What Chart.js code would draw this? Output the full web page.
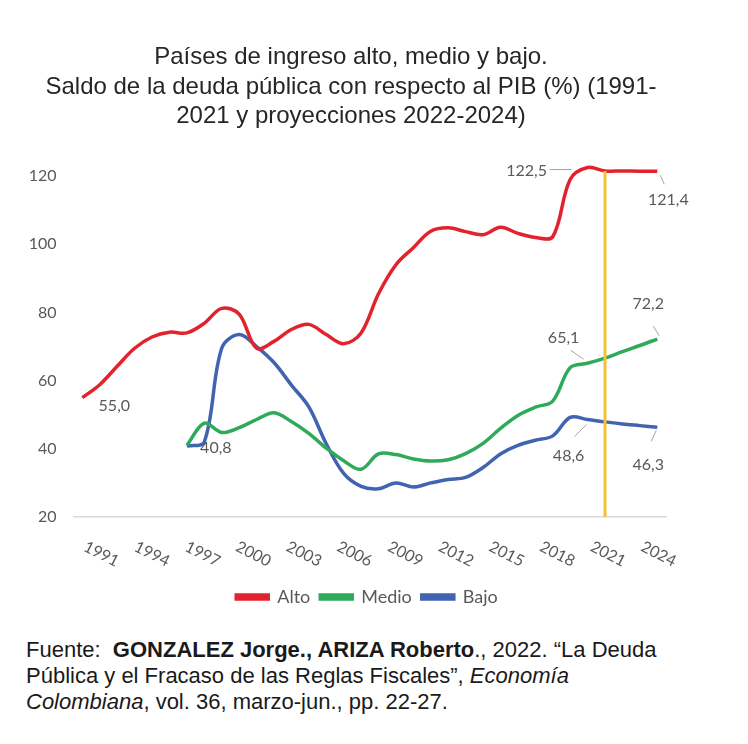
<!DOCTYPE html>
<html lang="es">
<head>
<meta charset="utf-8">
<title>Saldo de la deuda pública</title>
<script src="https://cdn.jsdelivr.net/npm/chart.js@4.4.1/dist/chart.umd.min.js"></script>
<style>
	body { margin: 0; background: #fff; }
	#titulo { position: absolute; left: 0; top: 41px; width: 702px; text-align: center;
		font: 24px "Liberation Sans", Arial, sans-serif; line-height: 29.5px; color: #262626; }
	#wrap { position: absolute; left: 0; top: 0; width: 748px; height: 625px; }
	#fuente { position: absolute; left: 26px; top: 637px; font: 22px "Liberation Sans", Arial, sans-serif;
		line-height: 26px; color: #1a1a1a; }
</style>
</head>
<body>
<div id="wrap"><canvas id="deudaChart"></canvas></div>
<div id="titulo">Países de ingreso alto, medio y bajo.<br>Saldo de la deuda pública con respecto al PIB (%) (1991-<br>2021 y proyecciones 2022-2024)</div>
<div id="fuente">Fuente:&nbsp; <b>GONZALEZ Jorge., ARIZA Roberto</b>., 2022. “La Deuda<br>Pública y el Fracaso de las Reglas Fiscales”, <i>Economía</i><br><i>Colombiana</i>, vol. 36, marzo-jun., pp. 22-27.</div>
<script>

// Data (% of GDP)
var years = ['1991','1992','1993','1994','1995','1996','1997','1998','1999','2000',
	'2001','2002','2003','2004','2005','2006','2007','2008','2009','2010',
	'2011','2012','2013','2014','2015','2016','2017','2018','2019','2020',
	'2021','2022','2023','2024'];

var alto = [55.0, 58.8, 64.2, 69.5, 72.8, 74.2, 74.0, 76.8, 81.2, 79.5,
	69.5, 71.5, 75.0, 76.5, 73.5, 70.8, 74.0, 85.5, 94.0, 99.0,
	103.8, 104.8, 103.7, 102.8, 105.0, 103.2, 102.0, 102.2, 119.0, 122.5,
	121.5, 121.5, 121.4, 121.4];

var medio = [null, null, null, null, null, null, 41.0, 47.5, 44.8, 46.2,
	48.6, 50.6, 48.0, 44.5, 40.2, 36.5, 34.0, 38.5, 38.3, 37.0,
	36.4, 36.8, 38.6, 41.6, 46.0, 49.8, 52.2, 54.0, 63.8, 65.1,
	66.6, 68.5, 70.3, 72.2];

var bajo = [null, null, null, null, null, null, 40.8, 42.0, 69.5, 73.5,
	70.0, 65.3, 58.7, 52.3, 41.5, 32.8, 29.0, 28.3, 30.0, 28.8,
	30.0, 31.0, 31.6, 34.5, 38.5, 41.0, 42.5, 43.8, 49.2, 48.6,
	47.9, 47.3, 46.8, 46.3];

var axisYears = ['1991','1994','1997','2000','2003','2006','2009','2012','2015','2018','2021','2024'];
var yTicks = [20, 40, 60, 80, 100, 120];
var projectionYear = '2021';

// which points carry a value label, and where the label sits
var valueLabels = [
	{ ds: 0, year: '1991', dx: 32, dy: 8 },
	{ ds: 2, year: '1997', dx: 29, dy: 2 },
	{ ds: 0, year: '2020', dx: -61, dy: 3, lead: [-38, 2, -16, 2] },
	{ ds: 0, year: '2024', dx: 11, dy: 29, lead: [3, 4, 7, 13] },
	{ ds: 1, year: '2020', dx: -24, dy: -25, lead: [-17, -13, -4, -4] },
	{ ds: 1, year: '2024', dx: -9, dy: -35, lead: [-4, -13, 2, -3] },
	{ ds: 2, year: '2020', dx: -19, dy: 36, lead: [-13, 17, -1, 5] },
	{ ds: 2, year: '2024', dx: -9, dy: 38, lead: [-6, 14, -1, 3] }
];

var decorations = {
	id: 'decorations',
	afterDatasetsDraw: function(chart) {
		var ctx = chart.ctx;
		var xs = chart.scales.x;
		var ys = chart.scales.y;
		var area = chart.chartArea;

		// vertical line at the start of projections
		var ip = years.indexOf(projectionYear);
		var xp = xs.getPixelForValue(ip);
		ctx.save();
		ctx.strokeStyle = '#f3c233';
		ctx.lineWidth = 3;
		ctx.beginPath();
		ctx.moveTo(xp, ys.getPixelForValue(alto[ip]));
		ctx.lineTo(xp, area.bottom);
		ctx.stroke();

		// value labels
		ctx.font = '16px Lato, "Liberation Sans", sans-serif';
		ctx.fillStyle = '#595959';
		ctx.textAlign = 'center';
		ctx.textBaseline = 'middle';
		valueLabels.forEach(function(l) {
			var i = years.indexOf(l.year);
			var v = chart.data.datasets[l.ds].data[i];
			var px = xs.getPixelForValue(i);
			var py = ys.getPixelForValue(v);
			if (l.lead) {
				ctx.strokeStyle = '#a6a6a6';
				ctx.lineWidth = 1;
				ctx.beginPath();
				ctx.moveTo(px + l.lead[0], py + l.lead[1]);
				ctx.lineTo(px + l.lead[2], py + l.lead[3]);
				ctx.stroke();
			}
			ctx.fillText(v.toFixed(1).replace('.', ','), px + l.dx, py + l.dy);
		});

		// slanted year labels (Excel spreads them a bit tighter than the ticks)
		axisYears.forEach(function(y, k) {
			var i = years.indexOf(y);
			ctx.save();
			ctx.translate(xs.getPixelForValue(i) + 19 - 1.6 * k, area.bottom + 37);
			ctx.rotate(27 * Math.PI / 180);
			ctx.fillText(y, 0, 0);
			ctx.restore();
		});
		ctx.restore();
	}
};

var ctx = document.getElementById('deudaChart');

var deudaChart = new Chart(ctx, {
	type: 'line',
	data: {
		labels: years,
		datasets: [{
			label: 'Alto',
			data: alto,
			borderColor: '#e2222d',
			backgroundColor: '#e2222d',
			borderWidth: 3.5,
			pointRadius: 0,
			tension: 0.35
		}, {
			label: 'Medio',
			data: medio,
			borderColor: '#2faa5a',
			backgroundColor: '#2faa5a',
			borderWidth: 3.5,
			pointRadius: 0,
			tension: 0.35
		}, {
			label: 'Bajo',
			data: bajo,
			borderColor: '#4064b0',
			backgroundColor: '#4064b0',
			borderWidth: 3.5,
			pointRadius: 0,
			tension: 0.35
		}]
	},
	options: {
		responsive: true,
		maintainAspectRatio: false,
		animation: false,
		layout: { padding: { top: 159, left: 0, right: 14, bottom: 9 } },
		scales: {
			x: {
				offset: true,
				grid: { display: false },
				border: { display: true, color: '#d9d9d9', width: 1.5 },
				ticks: { display: false },
				afterFit: function(s) { s.height = 61; }
			},
			y: {
				min: 20,
				max: 125,
				grid: { display: false, drawTicks: false },
				border: { display: false },
				ticks: {
					padding: 17,
					color: '#595959',
					font: { family: 'Lato, "Liberation Sans", sans-serif', size: 16 }
				},
				afterBuildTicks: function(s) {
					s.ticks = yTicks.map(function(v) { return { value: v }; });
				},
				afterFit: function(s) { s.width = 73.6; }
			},
			yRight: {
				position: 'right',
				grid: { display: false },
				border: { display: false },
				ticks: { display: false },
				afterFit: function(s) { s.width = 68; }
			}
		},
		plugins: {
			legend: {
				position: 'bottom',
				labels: {
					boxWidth: 32,
					boxHeight: 4,
					color: '#595959',
					font: { family: 'Lato, "Liberation Sans", sans-serif', size: 18 }
				}
			},
			tooltip: { enabled: false }
		}
	},
	plugins: [decorations]
});

</script>
</body>
</html>
